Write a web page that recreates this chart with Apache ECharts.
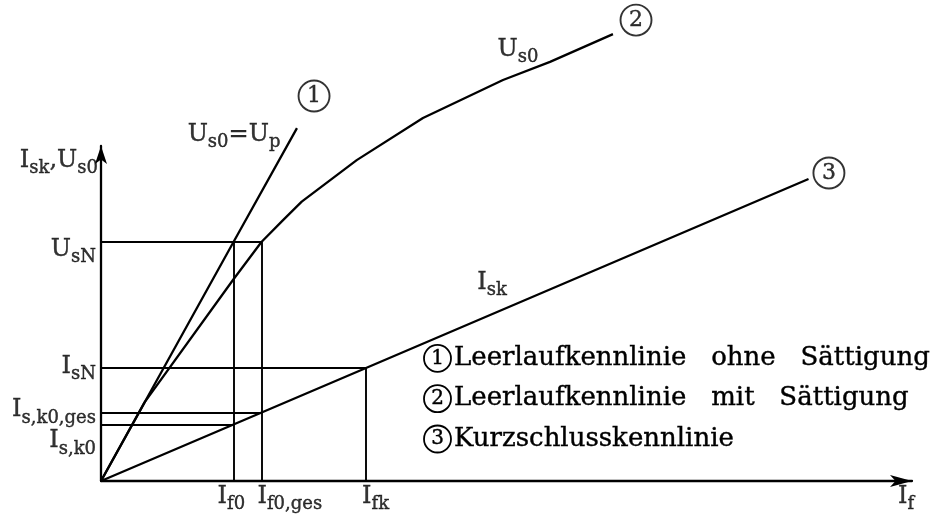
<!DOCTYPE html>
<html>
<head>
<meta charset="utf-8">
<script src="https://cdn.jsdelivr.net/npm/echarts@6/dist/echarts.min.js"></script>
<style>
  html, body { margin: 0; padding: 0; background: #fff; }
  #chart { width: 931px; height: 517px; }
</style>
</head>
<body>
<div id="chart"></div>
<script>
// Field current I_f in multiples of I_f0, voltage / current in multiples of U_sN
const xTickValues = [1.0, 1.211, 2.0];                 // I_f0, I_f0,ges, I_fk
const xTickNames  = [['I', 'f0'], ['I', 'f0,ges'], ['I', 'fk']];
const yTickValues = [1.0, 0.473, 0.287, 0.237];        // U_sN, I_sN, I_s,k0,ges, I_s,k0
const yTickNames  = [['U', 'sN'], ['I', 'sN'], ['I', 's,k0,ges'], ['I', 's,k0']];

const seriesNames = [
  'Leerlaufkennlinie   ohne   Sättigung',
  'Leerlaufkennlinie   mit   Sättigung',
  'Kurzschlusskennlinie'
];
// (1) open-circuit characteristic without saturation, U_s0 = U_p
const curveOhne = [[0, 0], [1.0, 1.0], [1.479, 1.477]];
// (2) open-circuit characteristic with saturation, U_s0
const curveMit = [[0, 0], [0.33, 0.33], [0.996, 0.841], [1.211, 1.0], [1.374, 1.092],
  [1.515, 1.169], [1.930, 1.343], [2.430, 1.519], [3.034, 1.678], [3.389, 1.754], [3.864, 1.870]];
// (3) short-circuit characteristic, I_sk
const curveKurz = [[0, 0], [2.0, 0.473], [5.34, 1.264]];

const X_MAX = 6.121, Y_MAX = 1.402;
const FONT = 'DejaVu Serif';
const INK = '#000';

const [If0, If0ges, Ifk] = xTickValues;
const [UsN, IsN, Isk0ges, Isk0] = yTickValues;

const helperLines = [
  [[0, UsN], [If0ges, UsN]],
  [[If0, 0], [If0, UsN]],
  [[If0ges, 0], [If0ges, UsN]],
  [[0, IsN], [Ifk, IsN]],
  [[Ifk, 0], [Ifk, IsN]],
  [[0, Isk0ges], [If0ges, Isk0ges]],
  [[0, Isk0], [If0, Isk0]]
];

const sub = (main, s) => `{m|${main}}{s|${s}}`;

// slight outline in the ink colour gives the drawing-style heavier strokes
const ink = { color: INK, textBorderColor: INK, textBorderWidth: 0.4 };
const rich = {
  m: Object.assign({ fontFamily: FONT, fontSize: 24, lineHeight: 24, padding: [0, 0, 5, 0] }, ink),
  s: Object.assign({ fontFamily: FONT, fontSize: 18, lineHeight: 18, padding: [11, 0, 0, 0] }, ink),
  c: Object.assign({ fontFamily: FONT, fontSize: 20, width: 27, height: 27, lineHeight: 27,
       align: 'center', borderRadius: 15, borderWidth: 1.8, borderColor: INK }, ink),
  cc: Object.assign({ fontFamily: FONT, fontSize: 22, width: 31, height: 31, lineHeight: 31,
       align: 'center', borderRadius: 17, borderWidth: 1.9, borderColor: INK }, ink),
  t: Object.assign({ fontFamily: FONT, fontSize: 26, padding: [0, 0, 0, 3] }, ink)
};

// text placed on the axes and next to the curves
const labelItems = [];
xTickValues.forEach((v, i) => {
  const dx = [-16, -4, -4][i];
  labelItems.push({ value: [v, 0], label: { formatter: sub(...xTickNames[i]),
    align: 'left', verticalAlign: 'top', offset: [dx, 6] } });
});
yTickValues.forEach((v, i) => {
  const dy = [10, 1, 0, 19][i];
  labelItems.push({ value: [0, v], label: { formatter: sub(...yTickNames[i]),
    align: 'right', verticalAlign: 'middle', offset: [-5, dy] } });
});
labelItems.push({ value: [X_MAX, 0], label: { formatter: sub('I', 'f'),
  align: 'left', verticalAlign: 'top', offset: [-14, 6] } });
labelItems.push({ value: [0, Y_MAX], label: { formatter: '{m|I}{s|sk}{m|,U}{s|s0}',
  align: 'right', verticalAlign: 'middle', offset: [-3, 17] } });
labelItems.push({ value: [1.004, 1.439], label: { formatter: '{m|U}{s|s0}{m|=U}{s|p}',
  align: 'center', verticalAlign: 'middle', offset: [0, 0] } });
labelItems.push({ value: [3.147, 1.795], label: { formatter: sub('U', 's0'),
  align: 'center', verticalAlign: 'middle', offset: [0, 0] } });
labelItems.push({ value: [2.951, 0.820], label: { formatter: sub('I', 'sk'),
  align: 'center', verticalAlign: 'middle', offset: [0, 0] } });
[[1.608, 1.611, '1'], [4.038, 1.929, '2'], [5.494, 1.289, '3']].forEach(([x, y, n]) => {
  labelItems.push({ value: [x, y], label: { formatter: `{cc|${n}}`,
    align: 'center', verticalAlign: 'middle', offset: [0, 0] } });
});

const curveStyle = { color: INK, width: 2.3 };
const lineSeries = (name, data) => ({
  name, type: 'line', data, symbol: 'none', clip: false, silent: true,
  lineStyle: curveStyle, itemStyle: { color: INK }, animation: false
});

const axisBase = {
  type: 'value', min: 0,
  axisTick: { show: false }, axisLabel: { show: false }, splitLine: { show: false }
};

const chart = echarts.init(document.getElementById('chart'), null, { renderer: 'canvas' });
chart.setOption({
  backgroundColor: '#fff',
  animation: false,
  grid: { left: 101, right: 19, top: 146, bottom: 36, containLabel: false, outerBoundsMode: 'none' },
  xAxis: Object.assign({}, axisBase, {
    max: X_MAX,
    axisLine: { show: true, lineStyle: { color: INK, width: 2.3 },
      symbol: ['none', 'arrow'], symbolSize: [9, 22] }
  }),
  yAxis: Object.assign({}, axisBase, {
    max: Y_MAX,
    axisLine: { show: true, lineStyle: { color: INK, width: 2.3 },
      symbol: ['none', 'arrow'], symbolSize: [9, 18] }
  }),
  legend: {
    orient: 'vertical', left: 414, top: 339, itemGap: 11.5,
    icon: 'none', itemWidth: 0, itemHeight: 0, selectedMode: false,
    data: seriesNames,
    formatter: name => `{c|${seriesNames.indexOf(name) + 1}}{t|${name}}`,
    textStyle: { rich, color: INK }
  },
  series: [
    lineSeries(seriesNames[0], curveOhne),
    lineSeries(seriesNames[1], curveMit),
    Object.assign(lineSeries(seriesNames[2], curveKurz), {
      markLine: {
        silent: true, symbol: 'none', animation: false,
        label: { show: false },
        lineStyle: { color: INK, width: 1.9, type: 'solid' },
        data: helperLines.map(([a, b]) => [{ coord: a }, { coord: b }])
      }
    }),
    {
      type: 'scatter', silent: true, clip: false, animation: false,
      symbol: 'circle', symbolSize: 1, itemStyle: { color: 'rgba(0,0,0,0)' },
      label: { show: true, position: 'inside', rich, color: INK },
      data: labelItems
    }
  ]
});
</script>
</body>
</html>
